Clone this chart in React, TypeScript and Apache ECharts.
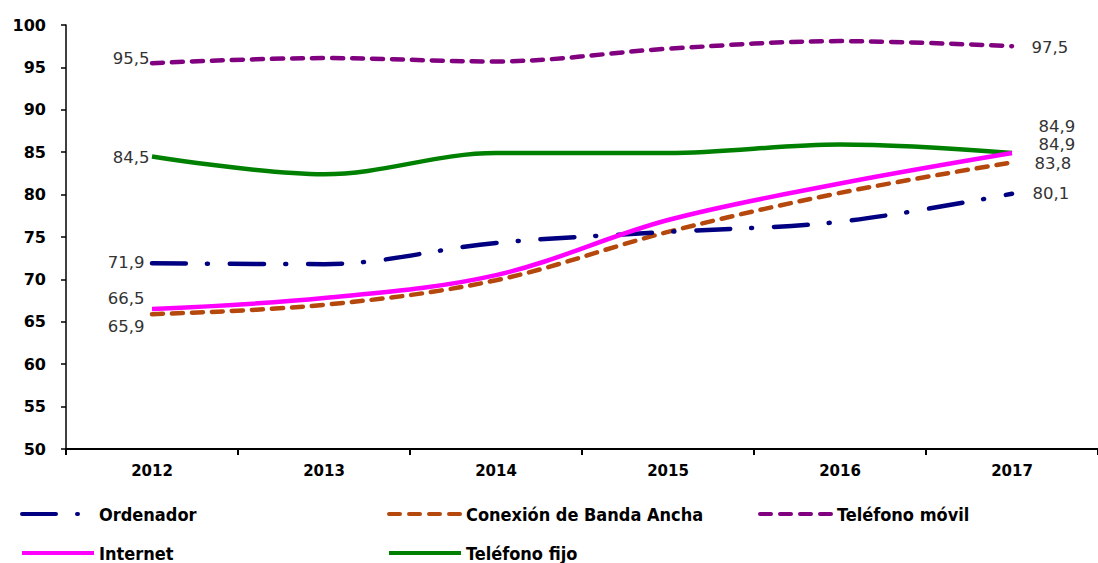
import React, { useEffect, useRef } from "react";
import * as echarts from "echarts";

const years = ["2012", "2013", "2014", "2015", "2016", "2017"];
const ordenador = [71.9, 71.8, 74.3, 75.6, 76.8, 80.1];
const bandaAncha = [65.9, 67.0, 69.9, 75.6, 80.2, 83.8];
const telMovil = [95.5, 96.1, 95.7, 97.2, 98.1, 97.5];
const internet = [66.5, 67.8, 70.5, 77.0, 81.3, 84.9];
const telFijo = [84.5, 82.4, 84.9, 84.9, 85.9, 84.9];

const fmt = (v: number) => v.toFixed(1).replace(".", ",");

type LblPos = { dist: number; dy: number };
function withEndLabels(values: number[], first: LblPos, last: LblPos) {
  const n = values.length;
  return values.map((v, i) => {
    if (i === 0 || i === n - 1) {
      const p = i === 0 ? first : last;
      return {
        value: v,
        symbol: "circle",
        symbolSize: 1,
        itemStyle: { color: "rgba(0,0,0,0)", borderWidth: 0 },
        label: {
          show: true,
          position: i === 0 ? "left" : "right",
          distance: p.dist,
          offset: [0, p.dy],
          formatter: () => fmt(v),
          fontFamily: "DejaVu Sans",
          fontSize: 16.5,
          color: "#333",
        },
      };
    }
    return { value: v, symbol: "none" };
  });
}

export default function App() {
  const ref = useRef<HTMLDivElement>(null);
  useEffect(() => {
    if (!ref.current) return;
    const chart = echarts.init(ref.current, undefined, { renderer: "svg" });
    const legendText = {
      fontFamily: "DejaVu Sans Condensed",
      fontWeight: "bold" as const,
      fontSize: 18,
      color: "#000",
    };
    const mkLegend = (name: string, left: number, top: number) => ({
      data: [name],
      left,
      top,
      itemWidth: 72,
      itemHeight: 14,
      textStyle: legendText,
      selectedMode: false,
      itemStyle: { opacity: 0 },
      lineStyle: { width: 4 },
    });
    const common = { type: "line", smooth: 0.35, symbol: "none", showSymbol: true };
    chart.setOption({
      animation: false,
      grid: { left: 66, right: -10, top: 25, bottom: 114, containLabel: false },
      legend: [
        mkLegend("Ordenador", 15, 500),
        mkLegend("Conexión de Banda Ancha", 382, 500),
        mkLegend("Teléfono móvil", 753, 500),
        mkLegend("Internet", 15, 539),
        mkLegend("Teléfono fijo", 382, 539),
      ],
      xAxis: {
        type: "category",
        data: years,
        boundaryGap: true,
        axisLine: { lineStyle: { color: "#000", width: 2 } },
        axisTick: { show: true, length: 6, lineStyle: { color: "#000", width: 2 } },
        axisLabel: {
          fontFamily: "DejaVu Sans",
          fontWeight: "bold",
          fontSize: 15,
          color: "#000",
          margin: 14,
        },
        splitLine: { show: false },
      },
      yAxis: {
        type: "value",
        min: 50,
        max: 100,
        interval: 5,
        axisLine: { show: true, lineStyle: { color: "#000", width: 1.5 } },
        axisTick: { show: true, length: 5, lineStyle: { color: "#000", width: 1.5 } },
        axisLabel: {
          fontFamily: "DejaVu Sans",
          fontWeight: "bold",
          fontSize: 16,
          color: "#000",
          margin: 20,
        },
        splitLine: { show: false },
      },
      series: [
        {
          ...common,
          name: "Ordenador",
          data: withEndLabels(ordenador, { dist: 7, dy: -1 }, { dist: 20, dy: 0 }),
          lineStyle: { color: "#000080", width: 4.5, type: [34, 21, 1, 22], cap: "round" },
          itemStyle: { color: "#000080" },
          z: 3,
        },
        {
          ...common,
          name: "Conexión de Banda Ancha",
          data: withEndLabels(bandaAncha, { dist: 7, dy: 12 }, { dist: 22, dy: 1 }),
          lineStyle: { color: "#B5480C", width: 4.5, type: [11, 9], cap: "round" },
          itemStyle: { color: "#B5480C" },
          z: 2,
        },
        {
          ...common,
          name: "Teléfono móvil",
          data: withEndLabels(telMovil, { dist: 2, dy: -5 }, { dist: 19, dy: 1 }),
          lineStyle: { color: "#800080", width: 4.5, type: [11, 9], cap: "round" },
          itemStyle: { color: "#800080" },
          z: 2,
        },
        {
          ...common,
          name: "Internet",
          data: withEndLabels(internet, { dist: 7, dy: -11 }, { dist: 26, dy: -9 }),
          lineStyle: { color: "#FF00FF", width: 4.5, type: "solid" },
          itemStyle: { color: "#FF00FF" },
          z: 3,
        },
        {
          ...common,
          name: "Teléfono fijo",
          data: withEndLabels(telFijo, { dist: 2, dy: 1 }, { dist: 26, dy: -27 }),
          lineStyle: { color: "#008000", width: 4.5, type: "solid" },
          itemStyle: { color: "#008000" },
          z: 2,
        },
      ],
    });
    return () => chart.dispose();
  }, []);
  return <div ref={ref} style={{ width: 1098, height: 563, position: "absolute", left: 0, top: 0 }} />;
}
